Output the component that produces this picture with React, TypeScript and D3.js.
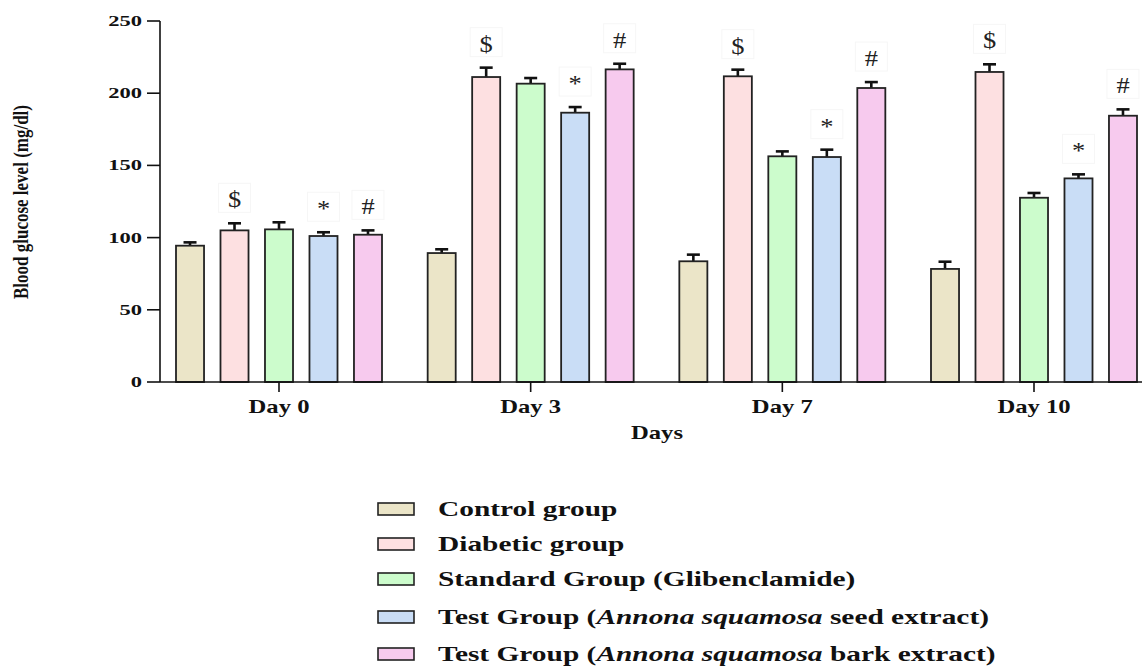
import React from "react";
import * as d3 from "d3";

const days = ["Day 0", "Day 3", "Day 7", "Day 10"];
const groupNames = [
  "Control group",
  "Diabetic group",
  "Standard Group (Glibenclamide)",
  "Test Group (Annona squamosa seed extract)",
  "Test Group (Annona squamosa bark extract)",
];
const controlVals = [94.4, 89.3, 83.6, 78.3];
const controlErr = [2.3, 2.6, 4.6, 5.0];
const diabeticVals = [105, 211.2, 211.7, 214.7];
const diabeticErr = [4.9, 6.5, 4.6, 5.3];
const standardVals = [105.7, 206.6, 156.3, 127.6];
const standardErr = [4.9, 3.9, 3.4, 3.3];
const seedVals = [101.1, 186.5, 155.8, 141];
const seedErr = [2.6, 3.9, 5.1, 2.8];
const barkVals = [102, 216.5, 203.6, 184.4];
const barkErr = [3, 3.9, 4.1, 4.4];
const sigMarks = ["", "$", "", "*", "#"];
const colors = ["#ebe5c8", "#fde0e1", "#ccfccc", "#c9ddf6", "#f7caee"];
const yTicks = [0, 50, 100, 150, 200, 250];

const seriesVals = [controlVals, diabeticVals, standardVals, seedVals, barkVals];
const seriesErr = [controlErr, diabeticErr, standardErr, seedErr, barkErr];

const FONT = "'Liberation Serif', 'Times New Roman', serif";

export default function App() {
  const y = d3.scaleLinear().domain([0, 250]).range([382, 21]);
  const x0 = d3.scalePoint<string>().domain(days).range([279, 1034]);
  const x1 = d3
    .scaleBand<number>()
    .domain(d3.range(groupNames.length))
    .range([-103, 103])
    .paddingInner(0.37)
    .paddingOuter(0);
  const bw = x1.bandwidth();

  const legendRowsY = [509, 544, 579, 617, 654];

  const renderLegendText = (name: string) => {
    const m = name.match(/^(.*\()Annona squamosa(.*)$/);
    if (m) {
      return (
        <>
          <tspan>{m[1]}</tspan>
          <tspan fontStyle="italic">Annona squamosa</tspan>
          <tspan>{m[2]}</tspan>
        </>
      );
    }
    return name;
  };

  return (
    <svg
      width={1142}
      height={667}
      style={{ position: "absolute", left: 0, top: 0, background: "#fff" }}
      fontFamily={FONT}
    >
      <rect x={0} y={0} width={1142} height={667} fill="#fff" />
      {days.map((day, di) => (
        <g key={day} transform={`translate(${x0(day)},0)`}>
          {groupNames.map((g, gi) => {
            const v = seriesVals[gi][di];
            const e = seriesErr[gi][di];
            const bx = x1(gi) as number;
            const cx = bx + bw / 2;
            const top = y(v + e);
            return (
              <g key={g}>
                <line x1={cx} x2={cx} y1={y(v)} y2={top} stroke="#111" strokeWidth={2.6} />
                <line x1={cx - 6.5} x2={cx + 6.5} y1={top} y2={top} stroke="#111" strokeWidth={2.6} />
                <rect
                  x={bx}
                  y={y(v)}
                  width={bw}
                  height={y(0) - y(v)}
                  fill={colors[gi]}
                  stroke="#222"
                  strokeWidth={1.8}
                />
                {sigMarks[gi] && (
                  <g>
                    <rect
                      x={cx - 16}
                      y={top - 40}
                      width={32}
                      height={29}
                      fill="none"
                      stroke="#f6f6f6"
                      strokeWidth={1}
                    />
                    <text
                      transform={`translate(${cx},${top - 16}) scale(1.15,1)`}
                      textAnchor="middle"
                      fontSize={23}
                      fill="#222"
                    >
                      {sigMarks[gi]}
                    </text>
                  </g>
                )}
              </g>
            );
          })}
        </g>
      ))}

      <line x1={160} x2={160} y1={y(250)} y2={y(0)} stroke="#111" strokeWidth={1.6} />
      <line x1={160} x2={1142} y1={y(0)} y2={y(0)} stroke="#111" strokeWidth={1.6} />
      {yTicks.map((t) => (
        <g key={t}>
          <line x1={147} x2={160} y1={y(t)} y2={y(t)} stroke="#111" strokeWidth={1.6} />
          <text
            transform={`translate(142,${y(t) + 5}) scale(1.5,1)`}
            textAnchor="end"
            fontSize={15}
            fontWeight="bold"
            fill="#111"
          >
            {t}
          </text>
        </g>
      ))}
      {days.map((day) => (
        <g key={day}>
          <line x1={x0(day)} x2={x0(day)} y1={y(0)} y2={y(0) + 10} stroke="#111" strokeWidth={1.6} />
          <text
            transform={`translate(${x0(day)},413) scale(1.37,1)`}
            textAnchor="middle"
            fontSize={18}
            fontWeight="bold"
            fill="#111"
          >
            {day}
          </text>
        </g>
      ))}
      <text
        transform="translate(657,439) scale(1.37,1)"
        textAnchor="middle"
        fontSize={18}
        fontWeight="bold"
        fill="#111"
      >
        Days
      </text>
      <text
        transform="translate(28,202) scale(1.25,1) rotate(-90)"
        textAnchor="middle"
        fontSize={17}
        fontWeight="bold"
        fill="#111"
      >
        Blood glucose level (mg/dl)
      </text>

      {groupNames.map((g, gi) => (
        <g key={g}>
          <rect
            x={378}
            y={legendRowsY[gi] - 6}
            width={36}
            height={12}
            fill={colors[gi]}
            stroke="#222"
            strokeWidth={1.6}
          />
          <text
            transform={`translate(438,${legendRowsY[gi] + 7}) scale(1.4,1)`}
            fontSize={21}
            fontWeight="bold"
            fill="#111"
          >
            {renderLegendText(g)}
          </text>
        </g>
      ))}
    </svg>
  );
}
